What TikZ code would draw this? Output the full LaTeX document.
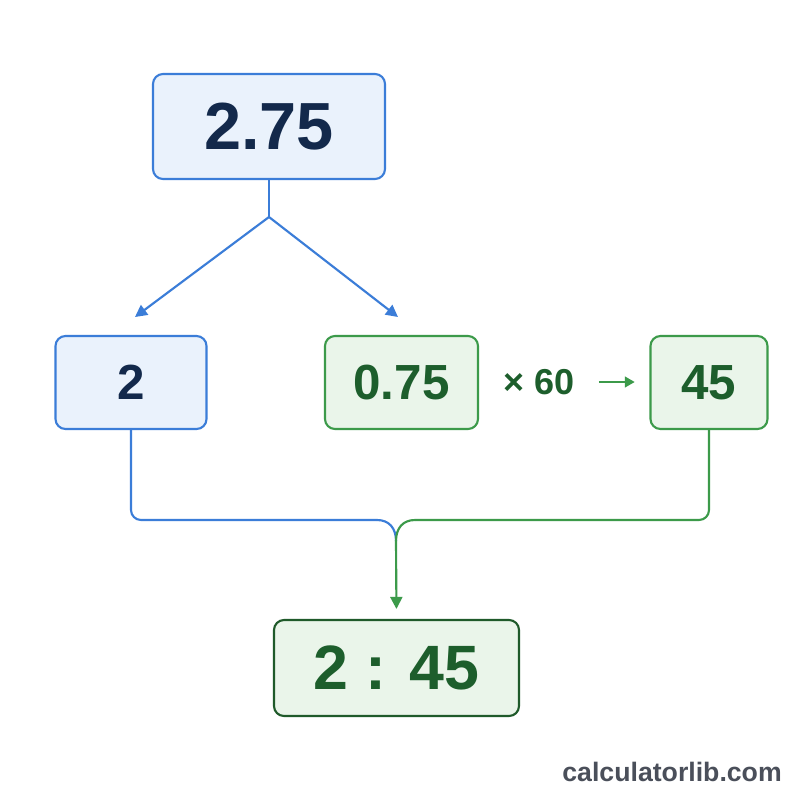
\documentclass[tikz,border=0pt]{standalone}
\usepackage{fontspec}
\setmainfont{Liberation Sans}
\usetikzlibrary{arrows.meta}
\definecolor{bstroke}{HTML}{3B7DD8}
\definecolor{bfill}{HTML}{EAF2FC}
\definecolor{btext}{HTML}{13294B}
\definecolor{gstroke}{HTML}{3C9A4A}
\definecolor{gfill}{HTML}{EAF5EA}
\definecolor{gtext}{HTML}{1D5E2C}
\definecolor{gdark}{HTML}{1F5A2A}
\definecolor{wmark}{HTML}{4A4F5A}
\tikzset{
  box/.style={draw, line width=1.6pt, rounded corners=7.5pt, inner sep=0pt, font=\bfseries},
  bluebox/.style={box, draw=bstroke, fill=bfill, text=btext},
  greenbox/.style={box, draw=gstroke, fill=gfill, text=gtext},
  bline/.style={draw=bstroke, line width=1.6pt},
  gline/.style={draw=gstroke, line width=1.6pt},
  tip/.style={-{Triangle[length=9pt,width=9pt]}},
  smalltip/.style={-{Triangle[length=7.5pt,width=8pt]}},
}
\begin{document}
\begin{tikzpicture}[x=0.75pt,y=-0.75pt]
\useasboundingbox[fill=white] (0,0) rectangle (800,800);
\node[bluebox, minimum width=174pt, minimum height=78.75pt, font=\fontsize{50}{60}\selectfont\bfseries] (top) at (269,126.5) {2.75};
\node[bluebox, minimum width=113.25pt, minimum height=69.75pt, font=\fontsize{37}{44}\selectfont\bfseries] (two) at (131,382.5) {2};
\node[greenbox, minimum width=114.75pt, minimum height=69.75pt, font=\fontsize{37}{44}\selectfont\bfseries] (frac) at (401.5,382.5) {0.75};
\node[greenbox, minimum width=87.75pt, minimum height=69.75pt, font=\fontsize{37}{44}\selectfont\bfseries] (ff) at (709,382.5) {45};
\node[greenbox, draw=gdark, minimum width=183.75pt, minimum height=72pt, font=\fontsize{47}{56}\selectfont\bfseries] (res) at (396.5,668) {2 : 45};
\node[text=gtext, font=\fontsize{27}{32}\selectfont\bfseries, inner sep=0pt] (mul) at (539,382) {× 60};
\node[text=wmark, font=\fontsize{20}{24}\selectfont\bfseries, inner sep=0pt, anchor=base east] (wm) at (782,781) {calculatorlib.com};
% multiplication arrow
\draw[gline, line width=1.8pt, smalltip, shorten <=18pt, shorten >=11pt] (mul.east) -- (mul.east -| ff.west);
% split connectors
\coordinate (j) at (269,217);
\coordinate (la) at (135,317);
\coordinate (ra) at (398,317);
\draw[bline] (top.south) -- (j);
\draw[bline, tip] (j) -- (la);
\draw[bline, tip] (j) -- (ra);
% merge connectors
\coordinate (bl) at (377,520);
\coordinate (gr) at (415,520);
\coordinate (m) at (396,541);
\draw[bline, rounded corners=7.5pt] (two.south) |- (bl);
\draw[bline] (bl) .. controls (389,520) and (396,528) .. (m);
\draw[gline, rounded corners=7.5pt] (ff.south) |- (gr);
\draw[gline] (gr) .. controls (403,520) and (396,528) .. (m);
\draw[gline, tip, shorten >=7.5pt] (m) -- (res.north);
\end{tikzpicture}
\end{document}
